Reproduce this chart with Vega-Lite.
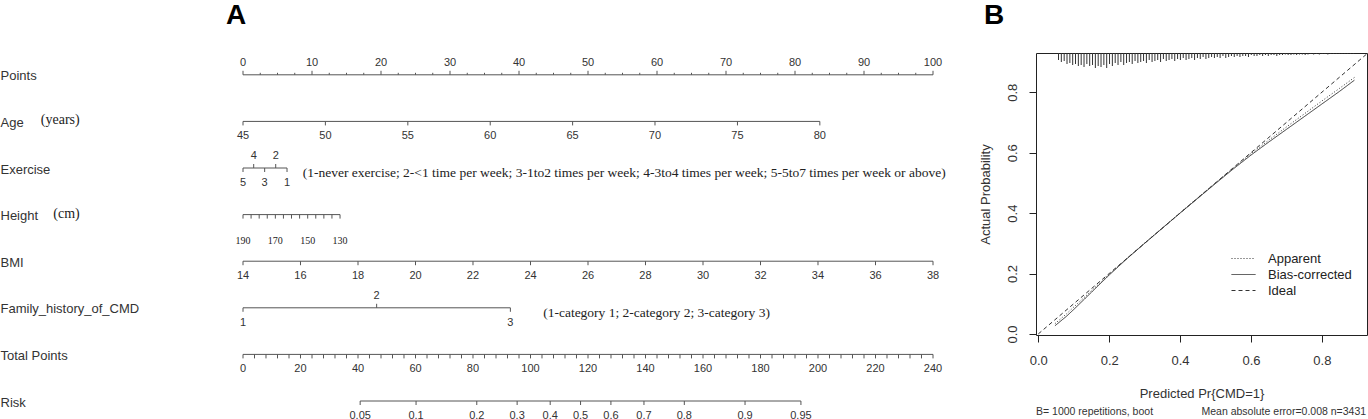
{
  "$schema": "https://vega.github.io/schema/vega-lite/v6.json",
  "padding": {"left": 0, "right": 0, "top": 1, "bottom": 0},
  "background": "white",
  "spacing": 32,
  "resolve": {"legend": {"strokeDash": "independent"}},
  "config": {
    "view": {"stroke": null},
    "font": "Liberation Sans",
    "text": {"font": "Liberation Sans", "color": "#222"}
  },
  "datasets": {
    "ticks": [
      {"r":0,"v":0,"lab":"0","side":"up","kind":"major"},
      {"r":0,"v":2.5,"side":"up","kind":"minor"},
      {"r":0,"v":5,"side":"up","kind":"minor"},
      {"r":0,"v":7.5,"side":"up","kind":"minor"},
      {"r":0,"v":10,"lab":"10","side":"up","kind":"major"},
      {"r":0,"v":12.5,"side":"up","kind":"minor"},
      {"r":0,"v":15,"side":"up","kind":"minor"},
      {"r":0,"v":17.5,"side":"up","kind":"minor"},
      {"r":0,"v":20,"lab":"20","side":"up","kind":"major"},
      {"r":0,"v":22.5,"side":"up","kind":"minor"},
      {"r":0,"v":25,"side":"up","kind":"minor"},
      {"r":0,"v":27.5,"side":"up","kind":"minor"},
      {"r":0,"v":30,"lab":"30","side":"up","kind":"major"},
      {"r":0,"v":32.5,"side":"up","kind":"minor"},
      {"r":0,"v":35,"side":"up","kind":"minor"},
      {"r":0,"v":37.5,"side":"up","kind":"minor"},
      {"r":0,"v":40,"lab":"40","side":"up","kind":"major"},
      {"r":0,"v":42.5,"side":"up","kind":"minor"},
      {"r":0,"v":45,"side":"up","kind":"minor"},
      {"r":0,"v":47.5,"side":"up","kind":"minor"},
      {"r":0,"v":50,"lab":"50","side":"up","kind":"major"},
      {"r":0,"v":52.5,"side":"up","kind":"minor"},
      {"r":0,"v":55,"side":"up","kind":"minor"},
      {"r":0,"v":57.5,"side":"up","kind":"minor"},
      {"r":0,"v":60,"lab":"60","side":"up","kind":"major"},
      {"r":0,"v":62.5,"side":"up","kind":"minor"},
      {"r":0,"v":65,"side":"up","kind":"minor"},
      {"r":0,"v":67.5,"side":"up","kind":"minor"},
      {"r":0,"v":70,"lab":"70","side":"up","kind":"major"},
      {"r":0,"v":72.5,"side":"up","kind":"minor"},
      {"r":0,"v":75,"side":"up","kind":"minor"},
      {"r":0,"v":77.5,"side":"up","kind":"minor"},
      {"r":0,"v":80,"lab":"80","side":"up","kind":"major"},
      {"r":0,"v":82.5,"side":"up","kind":"minor"},
      {"r":0,"v":85,"side":"up","kind":"minor"},
      {"r":0,"v":87.5,"side":"up","kind":"minor"},
      {"r":0,"v":90,"lab":"90","side":"up","kind":"major"},
      {"r":0,"v":92.5,"side":"up","kind":"minor"},
      {"r":0,"v":95,"side":"up","kind":"minor"},
      {"r":0,"v":97.5,"side":"up","kind":"minor"},
      {"r":0,"v":100,"lab":"100","side":"up","kind":"major"},

      {"r":1,"v":0,"lab":"45","side":"down"},
      {"r":1,"v":11.94,"lab":"50","side":"down"},
      {"r":1,"v":23.89,"lab":"55","side":"down"},
      {"r":1,"v":35.83,"lab":"60","side":"down"},
      {"r":1,"v":47.77,"lab":"65","side":"down"},
      {"r":1,"v":59.71,"lab":"70","side":"down"},
      {"r":1,"v":71.66,"lab":"75","side":"down"},
      {"r":1,"v":83.6,"lab":"80","side":"down"},

      {"r":2,"v":0,"lab":"5","side":"down"},
      {"r":2,"v":1.55,"lab":"4","side":"up","kind":"major"},
      {"r":2,"v":3.14,"lab":"3","side":"down"},
      {"r":2,"v":4.74,"lab":"2","side":"up","kind":"major"},
      {"r":2,"v":6.38,"lab":"1","side":"down"},

      {"r":3,"v":0,"lab":"190","side":"down"},
      {"r":3,"v":1.172,"side":"down"},
      {"r":3,"v":2.344,"side":"down"},
      {"r":3,"v":3.516,"side":"down"},
      {"r":3,"v":4.688,"lab":"170","side":"down"},
      {"r":3,"v":5.86,"side":"down"},
      {"r":3,"v":7.031,"side":"down"},
      {"r":3,"v":8.203,"side":"down"},
      {"r":3,"v":9.375,"lab":"150","side":"down"},
      {"r":3,"v":10.547,"side":"down"},
      {"r":3,"v":11.719,"side":"down"},
      {"r":3,"v":12.891,"side":"down"},
      {"r":3,"v":14.063,"lab":"130","side":"down"},

      {"r":4,"v":0,"lab":"14","side":"down"},
      {"r":4,"v":8.333,"lab":"16","side":"down"},
      {"r":4,"v":16.667,"lab":"18","side":"down"},
      {"r":4,"v":25,"lab":"20","side":"down"},
      {"r":4,"v":33.333,"lab":"22","side":"down"},
      {"r":4,"v":41.667,"lab":"24","side":"down"},
      {"r":4,"v":50,"lab":"26","side":"down"},
      {"r":4,"v":58.333,"lab":"28","side":"down"},
      {"r":4,"v":66.667,"lab":"30","side":"down"},
      {"r":4,"v":75,"lab":"32","side":"down"},
      {"r":4,"v":83.333,"lab":"34","side":"down"},
      {"r":4,"v":91.667,"lab":"36","side":"down"},
      {"r":4,"v":100,"lab":"38","side":"down"},

      {"r":5,"v":0,"lab":"1","side":"down"},
      {"r":5,"v":19.37,"lab":"2","side":"up","kind":"major"},
      {"r":5,"v":38.75,"lab":"3","side":"down"},

      {"r":6,"v":0,"lab":"0","side":"down"},
      {"r":6,"v":1.667,"side":"down"},
      {"r":6,"v":3.333,"side":"down"},
      {"r":6,"v":5,"side":"down"},
      {"r":6,"v":6.667,"side":"down"},
      {"r":6,"v":8.333,"lab":"20","side":"down"},
      {"r":6,"v":10,"side":"down"},
      {"r":6,"v":11.667,"side":"down"},
      {"r":6,"v":13.333,"side":"down"},
      {"r":6,"v":15,"side":"down"},
      {"r":6,"v":16.667,"lab":"40","side":"down"},
      {"r":6,"v":18.333,"side":"down"},
      {"r":6,"v":20,"side":"down"},
      {"r":6,"v":21.667,"side":"down"},
      {"r":6,"v":23.333,"side":"down"},
      {"r":6,"v":25,"lab":"60","side":"down"},
      {"r":6,"v":26.667,"side":"down"},
      {"r":6,"v":28.333,"side":"down"},
      {"r":6,"v":30,"side":"down"},
      {"r":6,"v":31.667,"side":"down"},
      {"r":6,"v":33.333,"lab":"80","side":"down"},
      {"r":6,"v":35,"side":"down"},
      {"r":6,"v":36.667,"side":"down"},
      {"r":6,"v":38.333,"side":"down"},
      {"r":6,"v":40,"side":"down"},
      {"r":6,"v":41.667,"lab":"100","side":"down"},
      {"r":6,"v":43.333,"side":"down"},
      {"r":6,"v":45,"side":"down"},
      {"r":6,"v":46.667,"side":"down"},
      {"r":6,"v":48.333,"side":"down"},
      {"r":6,"v":50,"lab":"120","side":"down"},
      {"r":6,"v":51.667,"side":"down"},
      {"r":6,"v":53.333,"side":"down"},
      {"r":6,"v":55,"side":"down"},
      {"r":6,"v":56.667,"side":"down"},
      {"r":6,"v":58.333,"lab":"140","side":"down"},
      {"r":6,"v":60,"side":"down"},
      {"r":6,"v":61.667,"side":"down"},
      {"r":6,"v":63.333,"side":"down"},
      {"r":6,"v":65,"side":"down"},
      {"r":6,"v":66.667,"lab":"160","side":"down"},
      {"r":6,"v":68.333,"side":"down"},
      {"r":6,"v":70,"side":"down"},
      {"r":6,"v":71.667,"side":"down"},
      {"r":6,"v":73.333,"side":"down"},
      {"r":6,"v":75,"lab":"180","side":"down"},
      {"r":6,"v":76.667,"side":"down"},
      {"r":6,"v":78.333,"side":"down"},
      {"r":6,"v":80,"side":"down"},
      {"r":6,"v":81.667,"side":"down"},
      {"r":6,"v":83.333,"lab":"200","side":"down"},
      {"r":6,"v":85,"side":"down"},
      {"r":6,"v":86.667,"side":"down"},
      {"r":6,"v":88.333,"side":"down"},
      {"r":6,"v":90,"side":"down"},
      {"r":6,"v":91.667,"lab":"220","side":"down"},
      {"r":6,"v":93.333,"side":"down"},
      {"r":6,"v":95,"side":"down"},
      {"r":6,"v":96.667,"side":"down"},
      {"r":6,"v":98.333,"side":"down"},
      {"r":6,"v":100,"lab":"240","side":"down"},

      {"r":7,"v":16.98,"lab":"0.05","side":"down"},
      {"r":7,"v":25.08,"lab":"0.1","side":"down"},
      {"r":7,"v":33.88,"lab":"0.2","side":"down"},
      {"r":7,"v":39.73,"lab":"0.3","side":"down"},
      {"r":7,"v":44.52,"lab":"0.4","side":"down"},
      {"r":7,"v":48.92,"lab":"0.5","side":"down"},
      {"r":7,"v":53.32,"lab":"0.6","side":"down"},
      {"r":7,"v":58.11,"lab":"0.7","side":"down"},
      {"r":7,"v":63.96,"lab":"0.8","side":"down"},
      {"r":7,"v":72.76,"lab":"0.9","side":"down"},
      {"r":7,"v":80.86,"lab":"0.95","side":"down"}
    ],
    "notes": [
      {"r":1,"v":-29.3,"txt":"(years)","kind":"unit"},
      {"r":3,"v":-27.5,"txt":"(cm)","kind":"unit"},
      {"r":2,"v":8.65,"txt":"(1-never exercise; 2-<1 time per week; 3-1to2 times per week; 4-3to4 times per week; 5-5to7 times per week or above)","kind":"key"},
      {"r":5,"v":43.5,"txt":"(1-category 1; 2-category 2; 3-category 3)","kind":"key"}
    ],
    "footnotes": [
      {"pred":-0.0065,"actual":-0.257,"note":"B= 1000 repetitions, boot","side":"left"},
      {"pred":0.925,"actual":-0.257,"note":"Mean absolute error=0.008 n=3431","side":"right"}
    ],
    "calib": [
      {"series":"Apparent","pred":0.047,"actual":0.034},
      {"series":"Apparent","pred":0.08,"actual":0.067},
      {"series":"Apparent","pred":0.1,"actual":0.089},
      {"series":"Apparent","pred":0.15,"actual":0.143},
      {"series":"Apparent","pred":0.2,"actual":0.197},
      {"series":"Apparent","pred":0.25,"actual":0.25},
      {"series":"Apparent","pred":0.3,"actual":0.301},
      {"series":"Apparent","pred":0.35,"actual":0.351},
      {"series":"Apparent","pred":0.4,"actual":0.401},
      {"series":"Apparent","pred":0.45,"actual":0.451},
      {"series":"Apparent","pred":0.5,"actual":0.5},
      {"series":"Apparent","pred":0.55,"actual":0.549},
      {"series":"Apparent","pred":0.6,"actual":0.597},
      {"series":"Apparent","pred":0.65,"actual":0.641},
      {"series":"Apparent","pred":0.7,"actual":0.685},
      {"series":"Apparent","pred":0.75,"actual":0.728},
      {"series":"Apparent","pred":0.8,"actual":0.771},
      {"series":"Apparent","pred":0.85,"actual":0.813},
      {"series":"Apparent","pred":0.892,"actual":0.849},
      {"series":"Bias-corrected","pred":0.047,"actual":0.027},
      {"series":"Bias-corrected","pred":0.08,"actual":0.059},
      {"series":"Bias-corrected","pred":0.1,"actual":0.081},
      {"series":"Bias-corrected","pred":0.15,"actual":0.138},
      {"series":"Bias-corrected","pred":0.2,"actual":0.195},
      {"series":"Bias-corrected","pred":0.25,"actual":0.249},
      {"series":"Bias-corrected","pred":0.3,"actual":0.3},
      {"series":"Bias-corrected","pred":0.35,"actual":0.35},
      {"series":"Bias-corrected","pred":0.4,"actual":0.4},
      {"series":"Bias-corrected","pred":0.45,"actual":0.449},
      {"series":"Bias-corrected","pred":0.5,"actual":0.498},
      {"series":"Bias-corrected","pred":0.55,"actual":0.546},
      {"series":"Bias-corrected","pred":0.6,"actual":0.592},
      {"series":"Bias-corrected","pred":0.65,"actual":0.635},
      {"series":"Bias-corrected","pred":0.7,"actual":0.677},
      {"series":"Bias-corrected","pred":0.75,"actual":0.719},
      {"series":"Bias-corrected","pred":0.8,"actual":0.761},
      {"series":"Bias-corrected","pred":0.85,"actual":0.803},
      {"series":"Bias-corrected","pred":0.892,"actual":0.84},
      {"series":"Ideal","pred":0,"actual":0},
      {"series":"Ideal","pred":1,"actual":1}
    ],
    "rug": [
      {"p":0.057,"len":7},{"p":0.065,"len":9},{"p":0.073,"len":8},{"p":0.081,"len":11},{"p":0.089,"len":10},
      {"p":0.097,"len":12},{"p":0.105,"len":11},{"p":0.113,"len":13},{"p":0.121,"len":12},{"p":0.129,"len":14},
      {"p":0.137,"len":11},{"p":0.145,"len":13},{"p":0.153,"len":12},{"p":0.161,"len":15},{"p":0.169,"len":13},
      {"p":0.177,"len":14},{"p":0.185,"len":12},{"p":0.193,"len":15},{"p":0.201,"len":11},{"p":0.209,"len":13},
      {"p":0.217,"len":10},{"p":0.225,"len":12},{"p":0.233,"len":9},{"p":0.241,"len":12},{"p":0.249,"len":10},
      {"p":0.257,"len":9},{"p":0.265,"len":11},{"p":0.273,"len":8},{"p":0.281,"len":10},{"p":0.289,"len":9},
      {"p":0.297,"len":8},{"p":0.305,"len":10},{"p":0.313,"len":7},{"p":0.321,"len":9},{"p":0.329,"len":8},
      {"p":0.337,"len":7},{"p":0.345,"len":9},{"p":0.353,"len":6},{"p":0.361,"len":8},{"p":0.369,"len":7},
      {"p":0.377,"len":6},{"p":0.385,"len":8},{"p":0.393,"len":6},{"p":0.401,"len":7},{"p":0.409,"len":5},
      {"p":0.417,"len":7},{"p":0.425,"len":6},{"p":0.433,"len":5},{"p":0.441,"len":7},{"p":0.449,"len":5},
      {"p":0.457,"len":6},{"p":0.465,"len":4},{"p":0.473,"len":6},{"p":0.481,"len":5},{"p":0.489,"len":4},
      {"p":0.497,"len":5},{"p":0.505,"len":4},{"p":0.513,"len":5},{"p":0.521,"len":3},{"p":0.529,"len":5},
      {"p":0.537,"len":4},{"p":0.545,"len":3},{"p":0.553,"len":4},{"p":0.561,"len":3},{"p":0.569,"len":4},
      {"p":0.577,"len":3},{"p":0.585,"len":3},{"p":0.593,"len":4},{"p":0.601,"len":2},{"p":0.609,"len":3},
      {"p":0.617,"len":3},{"p":0.625,"len":2},{"p":0.633,"len":3},{"p":0.641,"len":2},{"p":0.649,"len":3},
      {"p":0.657,"len":2},{"p":0.665,"len":2},{"p":0.673,"len":3},{"p":0.681,"len":2},{"p":0.689,"len":2},
      {"p":0.697,"len":1.5},{"p":0.705,"len":2},{"p":0.713,"len":2},{"p":0.721,"len":1.5},{"p":0.729,"len":2},
      {"p":0.737,"len":1.5},{"p":0.745,"len":1.5},{"p":0.753,"len":2},{"p":0.761,"len":1.5},{"p":0.769,"len":1},
      {"p":0.777,"len":1.5},{"p":0.785,"len":1},{"p":0.793,"len":1.5},{"p":0.801,"len":1},{"p":0.809,"len":1},
      {"p":0.817,"len":1.5},{"p":0.825,"len":1},{"p":0.833,"len":1},{"p":0.841,"len":1},{"p":0.849,"len":1},
      {"p":0.857,"len":1},{"p":0.865,"len":1},{"p":0.873,"len":1},{"p":0.881,"len":1},{"p":0.889,"len":1}
    ]
  },
  "hconcat": [
    {
      "width": 690,
      "height": 348,
      "title": {"text": "A", "anchor": "start", "frame": "group", "dx": -17, "fontSize": 28, "fontWeight": "bold", "offset": 23, "color": "#000", "font": "Liberation Sans"},
      "data": {"name": "ticks"},
      "encoding": {
        "x": {"field": "v", "type": "quantitative", "scale": {"domain": [0, 100], "nice": false, "zero": false}, "axis": null},
        "y": {"field": "r", "type": "quantitative", "scale": {"domain": [-0.468, 7], "reverse": true, "nice": false, "zero": false},
          "axis": {"values": [0,1,2,3,4,5,6,7], "labelExpr": "['Points','Age','Exercise','Height','BMI','Family_history_of_CMD','Total Points','Risk'][datum.value]",
            "ticks": false, "domain": false, "grid": false, "title": null, "labelAlign": "left", "labelBaseline": "middle", "labelPadding": 243, "labelOffset": 1,
            "labelFontSize": 13, "labelColor": "#333", "labelFont": "Liberation Sans", "labelLimit": 300}}
      },
      "layer": [
        {
          "mark": {"type": "rule", "color": "#555", "strokeWidth": 1},
          "encoding": {
            "x": {"aggregate": "min", "field": "v", "type": "quantitative", "axis": null},
            "x2": {"aggregate": "max", "field": "v"}
          }
        },
        {
          "transform": [{"filter": "datum.side === 'up' && datum.kind === 'major'"}],
          "mark": {"type": "rule", "color": "#555", "strokeWidth": 1, "y2Offset": -4},
          "encoding": {"y2": {"field": "r"}}
        },
        {
          "transform": [{"filter": "datum.side === 'up' && datum.kind === 'minor'"}],
          "mark": {"type": "rule", "color": "#555", "strokeWidth": 1, "y2Offset": -2},
          "encoding": {"y2": {"field": "r"}}
        },
        {
          "transform": [{"filter": "datum.side === 'down'"}],
          "mark": {"type": "rule", "color": "#555", "strokeWidth": 1, "y2Offset": 4},
          "encoding": {"y2": {"field": "r"}}
        },
        {
          "transform": [{"filter": "datum.side === 'up' && datum.lab != null"}],
          "mark": {"type": "text", "fontSize": 11, "dy": -12, "baseline": "middle", "align": "center", "color": "#333"},
          "encoding": {"text": {"field": "lab"}}
        },
        {
          "transform": [{"filter": "datum.side === 'down' && datum.lab != null && datum.r !== 3"}],
          "mark": {"type": "text", "fontSize": 11, "dy": 15, "baseline": "middle", "align": "center", "color": "#333"},
          "encoding": {"text": {"field": "lab"}}
        },
        {
          "transform": [{"filter": "datum.r === 3 && datum.lab != null"}],
          "mark": {"type": "text", "fontSize": 10, "dy": 26, "baseline": "middle", "align": "center", "color": "#222", "font": "Liberation Serif"},
          "encoding": {"text": {"field": "lab"}}
        },
        {
          "data": {"name": "notes"},
          "transform": [{"filter": "datum.kind === 'unit'"}],
          "mark": {"type": "text", "fontSize": 14, "dy": -1, "baseline": "middle", "align": "left", "color": "#222", "font": "Liberation Serif"},
          "encoding": {"text": {"field": "txt"}}
        },
        {
          "data": {"name": "notes"},
          "transform": [{"filter": "datum.kind === 'key'"}],
          "mark": {"type": "text", "fontSize": 13.5, "dy": 5, "baseline": "middle", "align": "left", "color": "#222", "font": "Liberation Serif"},
          "encoding": {"text": {"field": "txt"}}
        }
      ]
    },
    {
      "width": 331,
      "height": 282,
      "view": {"stroke": "#222", "strokeWidth": 1},
      "title": {"text": "B", "anchor": "start", "frame": "group", "dx": -52, "fontSize": 28, "fontWeight": "bold", "offset": 23, "color": "#000", "font": "Liberation Sans"},
      "layer": [
        {
          "encoding": {
            "x": {"field": "pred", "type": "quantitative", "scale": {"domain": [-0.0065, 0.9275], "nice": false, "zero": false},
              "axis": {"values": [0, 0.2, 0.4, 0.6, 0.8], "format": ".1f", "domain": false, "grid": false, "tickSize": 7, "tickColor": "#222",
                "labelFontSize": 13, "labelColor": "#333", "labelPadding": 12, "title": "Predicted Pr{CMD=1}", "titleFontSize": 13,
                "titleFontWeight": "normal", "titleColor": "#333", "titlePadding": 20, "titleFont": "Liberation Sans", "labelFont": "Liberation Sans"}},
            "y": {"field": "actual", "type": "quantitative", "scale": {"domain": [-0.0035, 0.93], "nice": false, "zero": false},
              "axis": {"values": [0, 0.2, 0.4, 0.6, 0.8], "format": ".1f", "domain": false, "grid": false, "tickSize": 7, "tickColor": "#222",
                "labelAngle": -90, "labelAlign": "center", "labelBaseline": "bottom", "labelFontSize": 13, "labelColor": "#333", "labelPadding": 10,
                "title": "Actual Probability", "titleFontSize": 13, "titleFontWeight": "normal", "titleColor": "#333", "titlePadding": 14,
                "titleFont": "Liberation Sans", "labelFont": "Liberation Sans"}}
          },
          "layer": [
            {
              "data": {"name": "calib"},
              "mark": {"type": "line", "clip": true, "strokeWidth": 1, "color": "#333"},
              "encoding": {
                "strokeDash": {"field": "series", "type": "nominal",
                  "scale": {"domain": ["Apparent", "Bias-corrected", "Ideal"], "range": [[1, 2], [1, 0], [4, 3]]},
                  "legend": {"title": null, "orient": "none", "legendX": 201, "legendY": 199, "symbolType": "M-2,0H2", "symbolSize": 144,
                    "symbolStrokeColor": "#333", "symbolFillColor": "transparent", "symbolStrokeWidth": 1, "labelFontSize": 13, "labelOffset": 18, "labelColor": "#222",
                    "rowPadding": 2, "labelFont": "Liberation Sans"}}
              }
            },
            {
              "data": {"name": "footnotes"},
              "transform": [{"filter": "datum.side === 'left'"}],
              "mark": {"type": "text", "fontSize": 10.5, "align": "left", "baseline": "middle", "color": "#333"},
              "encoding": {"text": {"field": "note"}}
            },
            {
              "data": {"name": "footnotes"},
              "transform": [{"filter": "datum.side === 'right'"}],
              "mark": {"type": "text", "fontSize": 10.5, "align": "right", "baseline": "middle", "color": "#333"},
              "encoding": {"text": {"field": "note"}}
            }
          ]
        },
        {
          "data": {"name": "rug"},
          "mark": {"type": "rule", "color": "#333", "strokeWidth": 1},
          "encoding": {
            "x": {"field": "p", "type": "quantitative"},
            "y": {"field": "len", "type": "quantitative", "scale": {"domain": [0, 16], "range": [0, 16], "nice": false, "zero": false}, "axis": null},
            "y2": {"datum": 0}
          }
        }
      ],
      "resolve": {"scale": {"y": "independent"}}
    }
  ]
}
